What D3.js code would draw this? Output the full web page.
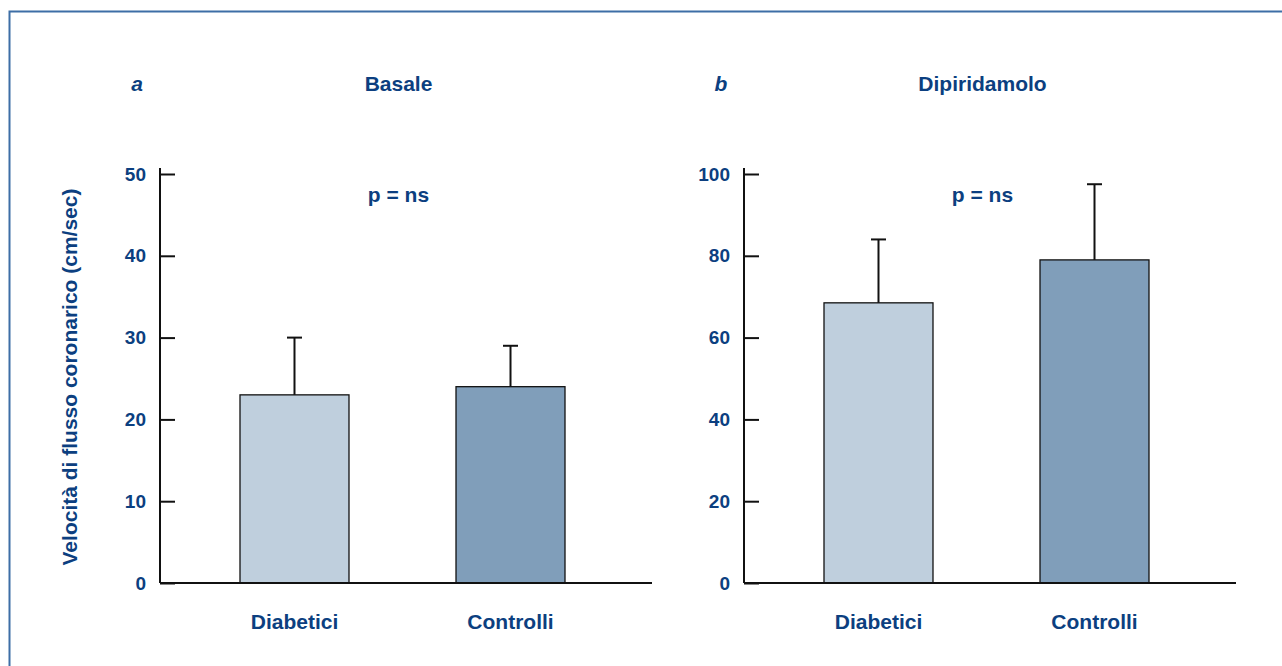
<!DOCTYPE html>
<html>
<head>
<meta charset="utf-8">
<script src="https://cdn.jsdelivr.net/npm/d3@7.9.0/dist/d3.min.js"></script>
<style>
  body { margin: 0; background: #fff; }
  svg text { font-family: "Liberation Sans", Arial, Helvetica, sans-serif; font-weight: bold; fill: #0c3f80; }
</style>
</head>
<body>
<svg id="chart" width="1282" height="666"></svg>
<script>
// data
const categories = ['Diabetici', 'Controlli'];
const basaleMeans = [23, 24];
const basaleUpper = [30, 29];        // mean + SD
const dipiMeans = [68.5, 79];
const dipiUpper = [84, 97.5];
const basaleTicks = [0, 10, 20, 30, 40, 50];
const dipiTicks = [0, 20, 40, 60, 80, 100];
const barColors = ['#bfcfdd', '#809eba'];

const svg = d3.select('#chart');
const textColor = '#0c3f80';

// outer frame (runs off the right/bottom edge)
svg.append('rect')
  .attr('x', 9.5).attr('y', 11.5)
  .attr('width', 1400).attr('height', 800)
  .attr('fill', 'none')
  .attr('stroke', '#3d6ea6')
  .attr('stroke-width', 2);

// y axis title
svg.append('text')
  .attr('transform', 'translate(77,377) rotate(-90)')
  .attr('text-anchor', 'middle')
  .style('font-size', '21px')
  .text('Velocità di flusso coronarico (cm/sec)');

const y0 = 583, yTop = 174;

function drawPanel(opts) {
  const { left, axisLen, max, ticks, means, upper, letter, title } = opts;
  const g = svg.append('g').attr('transform', `translate(${left},0)`);

  const y = d3.scaleLinear().domain([0, max]).range([y0, yTop]);
  const x = d3.scaleBand().domain(categories).range([80, 405]).paddingInner(0.4954);

  // bars
  g.selectAll('rect.bar')
    .data(categories)
    .join('rect')
    .attr('class', 'bar')
    .attr('x', d => x(d))
    .attr('width', x.bandwidth())
    .attr('y', (d, i) => y(means[i]))
    .attr('height', (d, i) => y(0) - y(means[i]))
    .attr('fill', (d, i) => barColors[i])
    .attr('stroke', '#111')
    .attr('stroke-width', 1.3);

  // error bars (upper only)
  const eb = g.selectAll('g.err').data(categories).join('g').attr('class', 'err');
  eb.append('line')
    .attr('x1', d => x(d) + x.bandwidth() / 2)
    .attr('x2', d => x(d) + x.bandwidth() / 2)
    .attr('y1', (d, i) => y(means[i]))
    .attr('y2', (d, i) => y(upper[i]))
    .attr('stroke', '#111').attr('stroke-width', 2);
  eb.append('line')
    .attr('x1', d => x(d) + x.bandwidth() / 2 - 7.5)
    .attr('x2', d => x(d) + x.bandwidth() / 2 + 7.5)
    .attr('y1', (d, i) => y(upper[i]))
    .attr('y2', (d, i) => y(upper[i]))
    .attr('stroke', '#111').attr('stroke-width', 2);

  // y axis: ticks point inward, labels outside
  const ax = g.append('g')
    .call(d3.axisLeft(y).tickValues(ticks).tickSize(-15).tickPadding(14).tickFormat(d3.format('d')));
  ax.select('.domain').remove();
  ax.selectAll('line').attr('stroke', '#111').attr('stroke-width', 2);
  ax.selectAll('text').style('font-size', '19px').attr('fill', textColor)
    .style('font-family', '"Liberation Sans", Arial, sans-serif').style('font-weight', 'bold');
  g.append('line')
    .attr('x1', 0).attr('x2', 0).attr('y1', 168).attr('y2', y0)
    .attr('stroke', '#111').attr('stroke-width', 2);
  g.append('line')
    .attr('x1', 0).attr('x2', axisLen).attr('y1', y0).attr('y2', y0)
    .attr('stroke', '#111').attr('stroke-width', 2);

  // category labels
  g.selectAll('text.cat')
    .data(categories)
    .join('text')
    .attr('class', 'cat')
    .attr('x', d => x(d) + x.bandwidth() / 2)
    .attr('y', 629)
    .attr('text-anchor', 'middle')
    .style('font-size', '21px')
    .text(d => d);

  const mid = x(categories[0]) + (x(categories[1]) + x.bandwidth() - x(categories[0])) / 2 - 4;

  g.append('text')
    .attr('x', mid).attr('y', 91)
    .attr('text-anchor', 'middle')
    .style('font-size', '21px')
    .text(title);

  g.append('text')
    .attr('x', -23).attr('y', 91)
    .attr('text-anchor', 'middle')
    .style('font-size', '21px')
    .style('font-style', 'italic')
    .text(letter);

  g.append('text')
    .attr('x', mid).attr('y', 202)
    .attr('text-anchor', 'middle')
    .style('font-size', '21px')
    .text('p = ns');
}

drawPanel({ left: 160, axisLen: 492, max: 50, ticks: basaleTicks, means: basaleMeans, upper: basaleUpper, letter: 'a', title: 'Basale' });
drawPanel({ left: 744, axisLen: 492, max: 100, ticks: dipiTicks, means: dipiMeans, upper: dipiUpper, letter: 'b', title: 'Dipiridamolo' });
</script>
</body>
</html>
